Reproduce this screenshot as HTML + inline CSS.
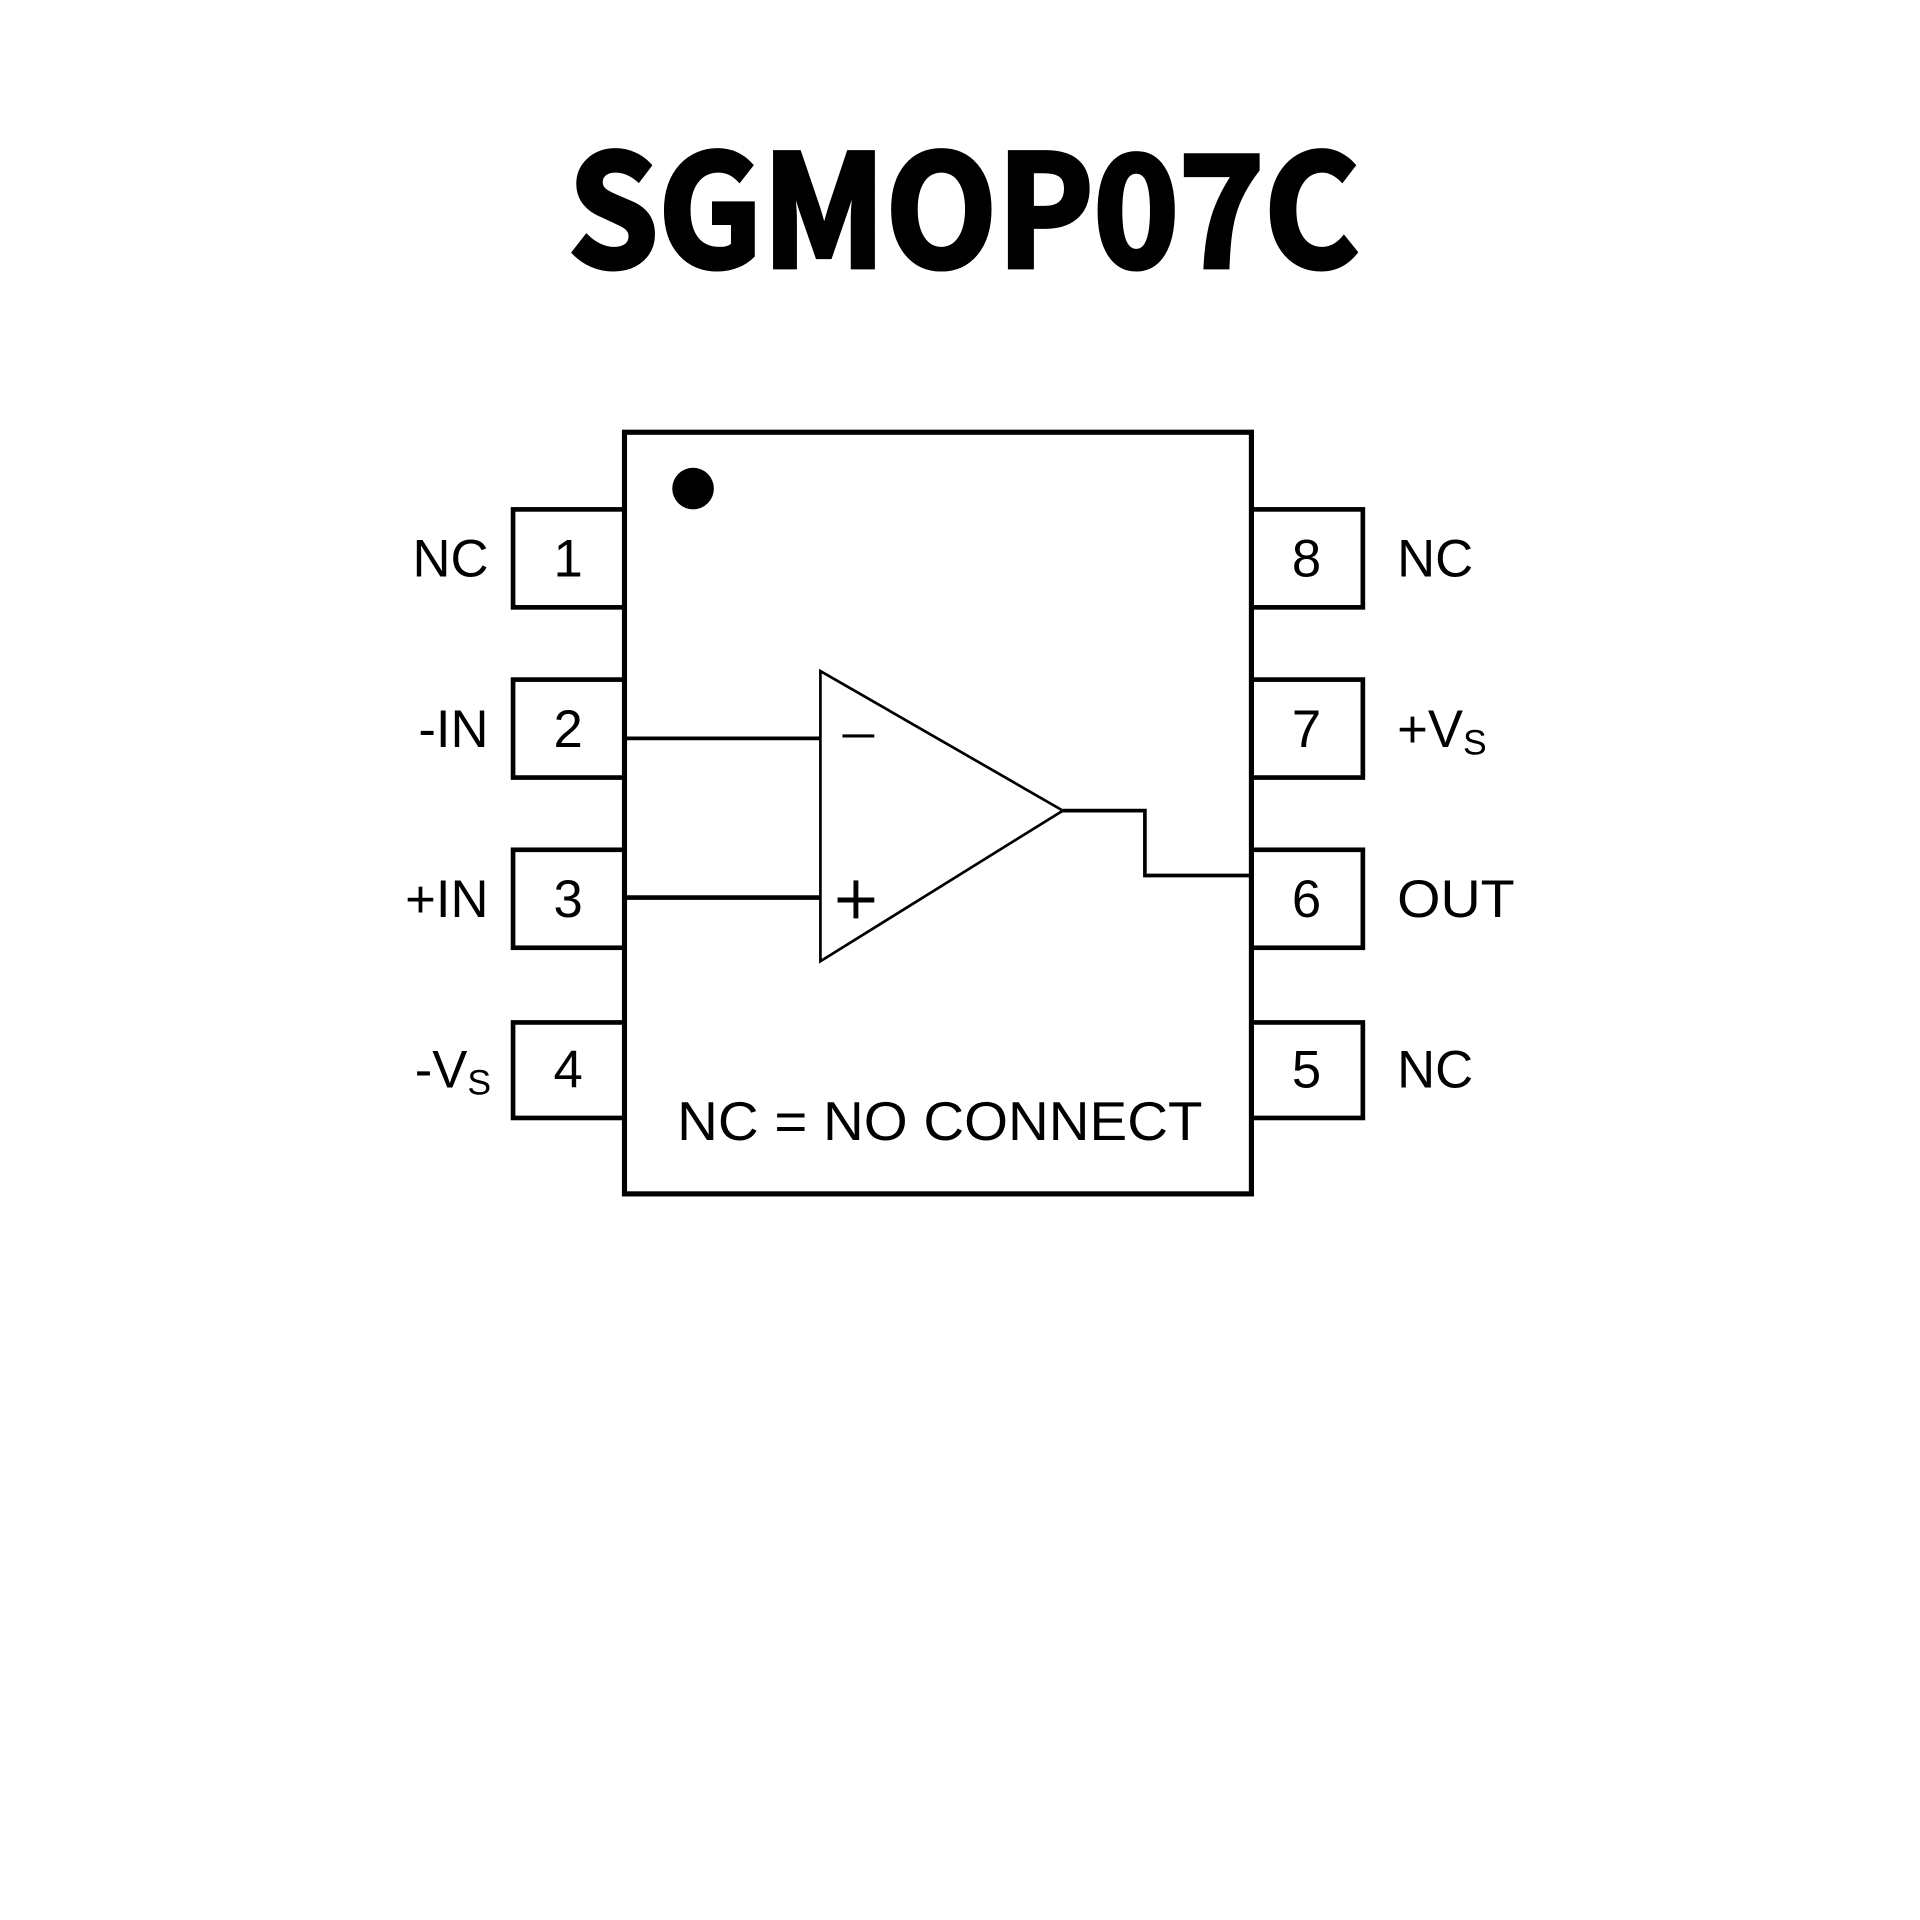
<!DOCTYPE html>
<html><head><meta charset="utf-8"><style>
html,body{margin:0;padding:0;background:#fff;}
svg{display:block;}
</style></head><body>
<svg width="1920" height="1920" viewBox="0 0 1568 1568" xmlns="http://www.w3.org/2000/svg">
<rect width="1568" height="1568" fill="#fff"/>
<text x="787" y="218" text-anchor="middle" font-family="'Noto Sans CJK SC','Liberation Sans',sans-serif" font-weight="bold" font-size="126" stroke="#000" stroke-width="4" textLength="646" lengthAdjust="spacingAndGlyphs">SGMOP07C</text>
<g fill="none" stroke="#000" stroke-width="3.8">
<rect x="419" y="416" width="91" height="80"/>
<rect x="419" y="555" width="91" height="80"/>
<rect x="419" y="694" width="91" height="80"/>
<rect x="419" y="835" width="91" height="78"/>
<rect x="1022" y="416" width="91" height="80"/>
<rect x="1022" y="555" width="91" height="80"/>
<rect x="1022" y="694" width="91" height="80"/>
<rect x="1022" y="835" width="91" height="78"/>
</g>
<rect x="510" y="353" width="512" height="622" fill="#fff" stroke="#000" stroke-width="4.2"/>
<circle cx="566" cy="399" r="17" fill="#000"/>
<g stroke="#000" fill="none">
<line x1="512" y1="603" x2="670" y2="603" stroke-width="3"/>
<line x1="512" y1="733" x2="670" y2="733" stroke-width="3.8"/>
<polygon points="670,548 670,785 868,662" stroke-width="2.2" fill="#fff"/>
<polyline points="868,662 935,662 935,715 1022,715" stroke-width="3"/>
<line x1="688" y1="601" x2="714" y2="601" stroke-width="2.5"/>
<line x1="684" y1="735" x2="714" y2="735" stroke-width="4"/>
<line x1="699" y1="719" x2="699" y2="750" stroke-width="4"/>
</g>
<g font-family="'Liberation Sans',sans-serif" font-size="43" fill="#000">
<g text-anchor="middle">
<text x="464" y="471">1</text>
<text x="464" y="610">2</text>
<text x="464" y="749">3</text>
<text x="464" y="888">4</text>
<text x="1067" y="471">8</text>
<text x="1067" y="610">7</text>
<text x="1067" y="749">6</text>
<text x="1067" y="888">5</text>
</g>
<g text-anchor="end">
<text x="399" y="471">NC</text>
<text x="399" y="610">-IN</text>
<text x="399" y="749">+IN</text>
<text x="401" y="888">-V<tspan font-size="29" dy="6">S</tspan></text>
</g>
<text x="1141" y="471">NC</text>
<text x="1141" y="610">+V<tspan font-size="29" dy="6">S</tspan></text>
<text x="1141" y="749" textLength="96" lengthAdjust="spacingAndGlyphs">OUT</text>
<text x="1141" y="888">NC</text>
<text x="553" y="931" font-size="45" textLength="429" lengthAdjust="spacingAndGlyphs">NC = NO CONNECT</text>
</g>
</svg>
</body></html>
